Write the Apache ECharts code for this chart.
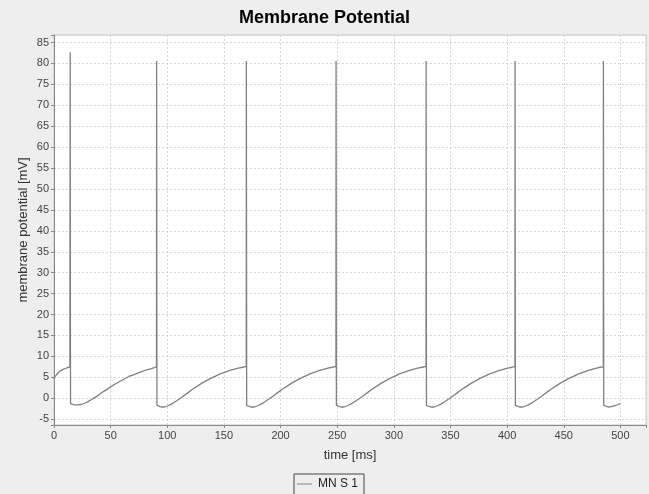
<!DOCTYPE html>
<html>
<head>
<meta charset="utf-8">
<title>Membrane Potential</title>
<script src="https://cdn.jsdelivr.net/npm/echarts@6.0.0/dist/echarts.min.js"></script>
<style>
  html, body { margin: 0; padding: 0; background: #eeeeee; }
  #chart { width: 649px; height: 494px; }
</style>
</head>
<body>
<div id="chart"></div>
<script>
// values
const seriesName = 'MN S 1'

// time axis (ms)
const timeMs = [
  0, 1, 2, 4, 6, 8, 10, 12, 14.0, 14.3, 14.5, 14.6, 15.3, 18, 21, 24, 27, 30, 34, 38, 42, 46, 50, 54, 58, 62, 66, 70, 74, 78, 82, 86, 90.5,
  90.6, 90.9, 91.6, 94.6, 97.6, 100.6, 103.6, 106.6, 110.6, 114.6, 118.6, 122.6, 126.6, 130.6, 134.6, 138.6, 142.6, 146.6, 150.6, 154.6, 158.6, 162.6, 166.6, 169.7,
  169.8, 170.1, 170.8, 173.8, 176.8, 179.8, 182.8, 185.8, 189.8, 193.8, 197.8, 201.8, 205.8, 209.8, 213.8, 217.8, 221.8, 225.8, 229.8, 233.8, 237.8, 241.8, 245.8, 248.9,
  249, 249.3, 250, 253, 256, 259, 262, 265, 269, 273, 277, 281, 285, 289, 293, 297, 301, 305, 309, 313, 317, 321, 325, 328.4,
  328.5, 328.8, 329.5, 332.5, 335.5, 338.5, 341.5, 344.5, 348.5, 352.5, 356.5, 360.5, 364.5, 368.5, 372.5, 376.5, 380.5, 384.5, 388.5, 392.5, 396.5, 400.5, 404.5, 406.9,
  407, 407.3, 408, 411, 414, 417, 420, 423, 427, 431, 435, 439, 443, 447, 451, 455, 459, 463, 467, 471, 475, 479, 482, 484.9,
  485, 485.3, 486, 489, 492, 495, 498, 500
]

// membrane potential (mV)
const potentialMv = [
  4.6, 5.2, 5.6, 6.2, 6.6, 6.9, 7.1, 7.3, 7.5, 82.7, 16, -1.3, -1.5, -1.6, -1.6, -1.5, -1.2, -0.8, -0.2, 0.5, 1.3, 2.0, 2.7, 3.4, 4.0, 4.6, 5.2, 5.6, 6.0, 6.4, 6.8, 7.1, 7.5,
  80.6, -1.7, -2.0, -2.1, -2.1, -1.8, -1.4, -0.9, -0.2, 0.6, 1.4, 2.2, 2.9, 3.6, 4.2, 4.8, 5.3, 5.8, 6.2, 6.6, 6.9, 7.2, 7.4, 7.6,
  80.6, -1.7, -2.0, -2.1, -2.1, -1.8, -1.4, -0.9, -0.2, 0.6, 1.4, 2.2, 2.9, 3.6, 4.2, 4.8, 5.3, 5.8, 6.2, 6.6, 6.9, 7.2, 7.4, 7.6,
  80.6, -1.7, -2.0, -2.1, -2.1, -1.8, -1.4, -0.9, -0.2, 0.6, 1.4, 2.2, 2.9, 3.6, 4.2, 4.8, 5.3, 5.8, 6.2, 6.6, 6.9, 7.2, 7.4, 7.6,
  80.6, -1.7, -2.0, -2.1, -2.1, -1.8, -1.4, -0.9, -0.2, 0.6, 1.4, 2.2, 2.9, 3.6, 4.2, 4.8, 5.3, 5.8, 6.2, 6.6, 6.9, 7.2, 7.4, 7.6,
  80.6, -1.7, -2.0, -2.1, -2.1, -1.8, -1.4, -0.9, -0.2, 0.6, 1.4, 2.2, 2.9, 3.6, 4.2, 4.8, 5.3, 5.8, 6.2, 6.6, 6.9, 7.2, 7.4, 7.5,
  80.6, -1.7, -2.0, -2.1, -2.0, -1.8, -1.5, -1.3
]

// axis ranges (auto range of the original plot)
const xMin = 0
const xMax = 522.6
const xStep = 50
const yMin = -6.4
const yMax = 86.8
const yStep = 5

const font = 'Liberation Sans, Arial, sans-serif'

const chart = echarts.init(document.getElementById('chart'))

// hide the labels of the extent ticks that are not on a step
const stepLabel = (step) => (value) => {
  const r = value / step
  return Math.abs(r - Math.round(r)) < 1e-6 ? String(Math.round(value)) : ''
}

const option = {
  backgroundColor: '#eeeeee',
  animation: false,
  title: {
    text: 'Membrane Potential',
    left: 'center',
    top: 4,
    textStyle: { fontFamily: font, fontSize: 18, fontWeight: 'bold', color: '#000' }
  },
  legend: {
    data: [seriesName],
    left: 294,
    bottom: -2,
    padding: [4, 6, 6, 3],
    borderColor: '#444',
    borderWidth: 1,
    backgroundColor: '#eeeeee',
    icon: 'rect',
    itemWidth: 15,
    itemHeight: 1,
    itemGap: 4,
    textStyle: { fontFamily: font, fontSize: 12, color: '#222', padding: [0, 0, 0, 1] }
  },
  grid: {
    left: 54,
    right: 3,
    top: 35,
    bottom: 69,
    show: true,
    backgroundColor: '#ffffff',
    borderColor: '#c8c8c8',
    borderWidth: 1
  },
  xAxis: {
    type: 'value',
    min: xMin,
    max: xMax,
    interval: xStep,
    name: 'time [ms]',
    nameLocation: 'middle',
    nameGap: 24,
    nameMoveOverlap: false,
    nameTextStyle: { fontFamily: font, fontSize: 13, color: '#333' },
    axisLine: { onZero: false, lineStyle: { color: '#888' } },
    axisTick: { show: true, length: 3, lineStyle: { color: '#888' } },
    axisLabel: { fontFamily: font, fontSize: 11, color: '#444', margin: 5, formatter: stepLabel(xStep) },
    splitLine: { show: true, lineStyle: { color: '#d6d6d6', type: [2, 2], width: 1 } }
  },
  yAxis: {
    type: 'value',
    min: yMin,
    max: yMax,
    splitNumber: 18,
    name: 'membrane potential [mV]',
    nameLocation: 'middle',
    nameGap: 24,
    nameMoveOverlap: false,
    nameTextStyle: { fontFamily: font, fontSize: 13, color: '#333' },
    axisLine: { show: true, lineStyle: { color: '#888' } },
    axisTick: { show: true, length: 3, lineStyle: { color: '#888' } },
    axisLabel: { fontFamily: font, fontSize: 11, color: '#444', margin: 5, formatter: stepLabel(yStep) },
    splitLine: { show: true, lineStyle: { color: '#d6d6d6', type: [2, 2], width: 1 } }
  },
  series: [
    {
      name: seriesName,
      type: 'line',
      data: timeMs.map((t, i) => [t, potentialMv[i]]),
      showSymbol: false,
      symbol: 'none',
      lineStyle: { color: '#808080', width: 1.3 },
      itemStyle: { color: '#808080' }
    }
  ]
}

chart.setOption(option)
</script>
</body>
</html>
